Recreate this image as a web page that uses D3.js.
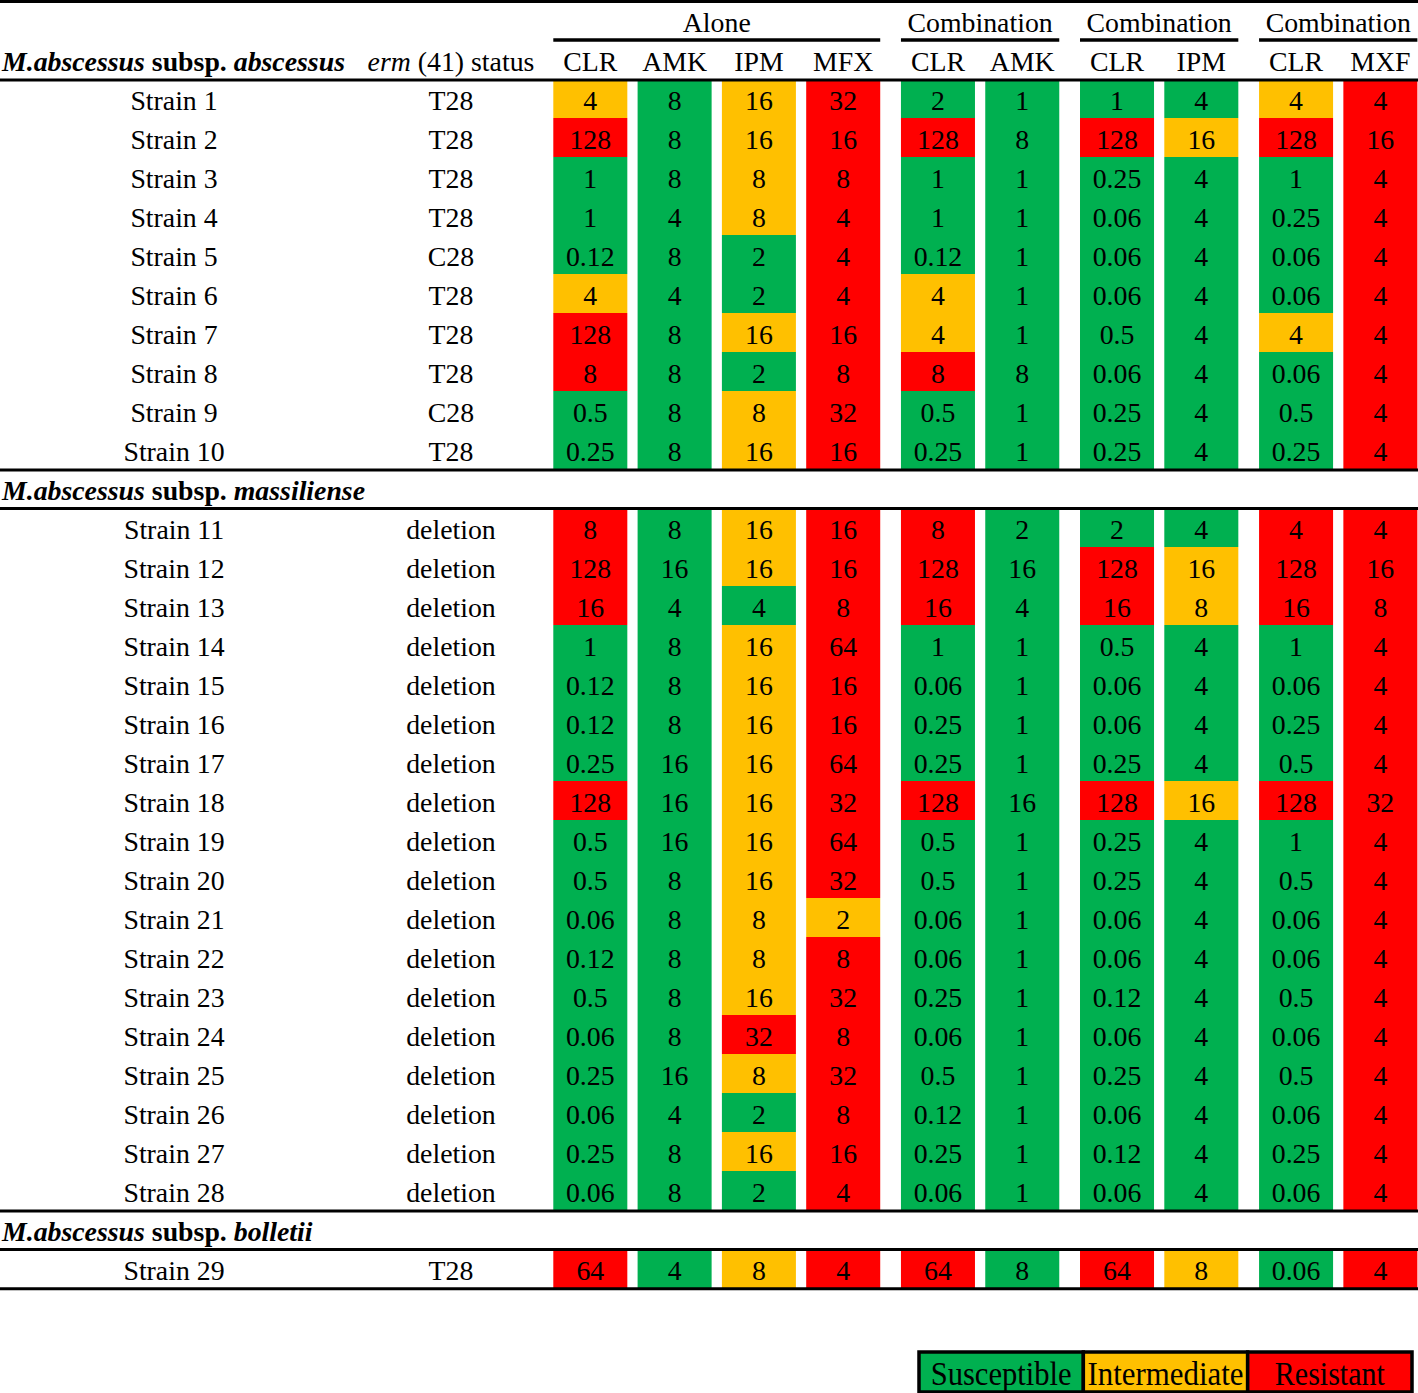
<!DOCTYPE html>
<html>
<head>
<meta charset="utf-8">
<script src="https://cdn.jsdelivr.net/npm/d3@7"></script>
<style>
  html, body { margin: 0; padding: 0; background: #fff; }
</style>
</head>
<body>
<svg id="chart" width="1418" height="1393"></svg>
<script>
// ---------------- DATA ----------------
const drugColumns = ["CLR", "AMK", "IPM", "MFX", "CLR", "AMK", "CLR", "IPM", "CLR", "MXF"];
const columnGroup = [0, 0, 0, 0, 1, 1, 2, 2, 3, 3];
const groupLabels = ["Alone", "Combination", "Combination", "Combination"];

const sectionNames = ["abscessus", "massiliense", "bolletii"];
const strainNames = [
  "Strain 1", "Strain 2", "Strain 3", "Strain 4", "Strain 5", "Strain 6", "Strain 7", "Strain 8", "Strain 9", "Strain 10",
  "Strain 11", "Strain 12", "Strain 13", "Strain 14", "Strain 15", "Strain 16", "Strain 17", "Strain 18", "Strain 19", "Strain 20",
  "Strain 21", "Strain 22", "Strain 23", "Strain 24", "Strain 25", "Strain 26", "Strain 27", "Strain 28",
  "Strain 29"
];
const strainSection = [0,0,0,0,0,0,0,0,0,0, 1,1,1,1,1,1,1,1,1,1,1,1,1,1,1,1,1,1, 2];
const ermStatus = [
  "T28", "T28", "T28", "T28", "C28", "T28", "T28", "T28", "C28", "T28",
  "deletion", "deletion", "deletion", "deletion", "deletion", "deletion", "deletion", "deletion", "deletion", "deletion",
  "deletion", "deletion", "deletion", "deletion", "deletion", "deletion", "deletion", "deletion",
  "T28"
];
const micValues = [
  ["4", "8", "16", "32", "2", "1", "1", "4", "4", "4"],
  ["128", "8", "16", "16", "128", "8", "128", "16", "128", "16"],
  ["1", "8", "8", "8", "1", "1", "0.25", "4", "1", "4"],
  ["1", "4", "8", "4", "1", "1", "0.06", "4", "0.25", "4"],
  ["0.12", "8", "2", "4", "0.12", "1", "0.06", "4", "0.06", "4"],
  ["4", "4", "2", "4", "4", "1", "0.06", "4", "0.06", "4"],
  ["128", "8", "16", "16", "4", "1", "0.5", "4", "4", "4"],
  ["8", "8", "2", "8", "8", "8", "0.06", "4", "0.06", "4"],
  ["0.5", "8", "8", "32", "0.5", "1", "0.25", "4", "0.5", "4"],
  ["0.25", "8", "16", "16", "0.25", "1", "0.25", "4", "0.25", "4"],
  ["8", "8", "16", "16", "8", "2", "2", "4", "4", "4"],
  ["128", "16", "16", "16", "128", "16", "128", "16", "128", "16"],
  ["16", "4", "4", "8", "16", "4", "16", "8", "16", "8"],
  ["1", "8", "16", "64", "1", "1", "0.5", "4", "1", "4"],
  ["0.12", "8", "16", "16", "0.06", "1", "0.06", "4", "0.06", "4"],
  ["0.12", "8", "16", "16", "0.25", "1", "0.06", "4", "0.25", "4"],
  ["0.25", "16", "16", "64", "0.25", "1", "0.25", "4", "0.5", "4"],
  ["128", "16", "16", "32", "128", "16", "128", "16", "128", "32"],
  ["0.5", "16", "16", "64", "0.5", "1", "0.25", "4", "1", "4"],
  ["0.5", "8", "16", "32", "0.5", "1", "0.25", "4", "0.5", "4"],
  ["0.06", "8", "8", "2", "0.06", "1", "0.06", "4", "0.06", "4"],
  ["0.12", "8", "8", "8", "0.06", "1", "0.06", "4", "0.06", "4"],
  ["0.5", "8", "16", "32", "0.25", "1", "0.12", "4", "0.5", "4"],
  ["0.06", "8", "32", "8", "0.06", "1", "0.06", "4", "0.06", "4"],
  ["0.25", "16", "8", "32", "0.5", "1", "0.25", "4", "0.5", "4"],
  ["0.06", "4", "2", "8", "0.12", "1", "0.06", "4", "0.06", "4"],
  ["0.25", "8", "16", "16", "0.25", "1", "0.12", "4", "0.25", "4"],
  ["0.06", "8", "2", "4", "0.06", "1", "0.06", "4", "0.06", "4"],
  ["64", "4", "8", "4", "64", "8", "64", "8", "0.06", "4"]
];
// S = susceptible, I = intermediate, R = resistant
const micCategory = [
  "ISIRSSSSIR", "RSIRRSRIRR", "SSIRSSSSSR", "SSIRSSSSSR", "SSSRSSSSSR",
  "ISSRISSSSR", "RSIRISSSIR", "RSSRRSSSSR", "SSIRSSSSSR", "SSIRSSSSSR",
  "RSIRRSSSRR", "RSIRRSRIRR", "RSSRRSRIRR", "SSIRSSSSSR", "SSIRSSSSSR",
  "SSIRSSSSSR", "SSIRSSSSSR", "RSIRRSRIRR", "SSIRSSSSSR", "SSIRSSSSSR",
  "SSIISSSSSR", "SSIRSSSSSR", "SSIRSSSSSR", "SSRRSSSSSR", "SSIRSSSSSR",
  "SSSRSSSSSR", "SSIRSSSSSR", "SSSRSSSSSR",
  "RSIRRSRISR"
];
const legendCodes = ["S", "I", "R"];
const legendLabels = ["Susceptible", "Intermediate", "Resistant"];

// ---------------- LAYOUT ----------------
const W = 1418, H = 1393;
const FS = 27.8;
const FONT = '"Liberation Serif", "Times New Roman"';
const svg = d3.select("#chart");
const root = svg.append("g");

const color = d3.scaleOrdinal().domain(["S", "I", "R"]).range(["#00B050", "#FFC000", "#FF0000"]);

// Row slots: strains plus section header rows for sections 2 and 3
const slots = [];
strainNames.forEach((s, i) => {
  if (i > 0 && strainSection[i] !== strainSection[i - 1]) slots.push({type: "section", section: strainSection[i], id: "sec" + strainSection[i]});
  slots.push({type: "strain", index: i, id: "row" + i});
});
const rowStep = 39;
const y = d3.scaleBand().domain(slots.map(d => d.id)).range([79, 79 + slots.length * rowStep]).padding(0);
const textDy = 11.5;

// Column units: index + group gap units
const groupGapUnits = 0.124;
const cellUnits = 0.878;
const colUnit = drugColumns.map((d, i) => i + columnGroup[i] * groupGapUnits);
const x = d3.scaleLinear().domain([0, 1]).range([553.3, 553.3 + 84.3]);
const cellX = i => x(colUnit[i]);
const cellW = i => x(colUnit[i] + cellUnits) - x(colUnit[i]);

const strainX = 174, ermX = 451;

function txt(g, xx, yy, size) {
  return g.append("text").attr("x", xx).attr("y", yy)
    .style("font-family", FONT).attr("font-size", size).attr("fill", "#000");
}

// ---------------- CELLS ----------------
const cells = [];
strainNames.forEach((s, r) => {
  drugColumns.forEach((c, j) => {
    cells.push({r, j, v: micValues[r][j], cat: micCategory[r][j]});
  });
});

root.append("g").selectAll("rect").data(cells).join("rect")
  .attr("x", d => cellX(d.j))
  .attr("y", d => y("row" + d.r))
  .attr("width", d => cellW(d.j))
  .attr("height", y.bandwidth())
  .attr("fill", d => color(d.cat));

root.append("g").selectAll("text").data(cells).join("text")
  .attr("x", d => cellX(d.j) + cellW(d.j) / 2)
  .attr("y", d => y("row" + d.r) + y.bandwidth() / 2 + textDy)
  .attr("text-anchor", "middle")
  .style("font-family", FONT)
  .attr("font-size", FS)
  .attr("fill", "#000")
  .text(d => d.v);

// strain names and erm status
const rowLabels = root.append("g");
strainNames.forEach((s, r) => {
  const yy = y("row" + r) + y.bandwidth() / 2 + textDy;
  txt(rowLabels, strainX, yy, FS).attr("text-anchor", "middle").text(s);
  txt(rowLabels, ermX, yy, FS).attr("text-anchor", "middle").text(ermStatus[r]);
});

// section headers
function sectionTitle(g, xx, yy, subsp) {
  const t = txt(g, xx, yy, FS).attr("font-weight", "bold");
  t.append("tspan").attr("font-style", "italic").text("M.abscessus");
  t.append("tspan").text(" subsp. ");
  t.append("tspan").attr("font-style", "italic").text(subsp);
}
slots.filter(d => d.type === "section").forEach(d => {
  sectionTitle(root, 2, y(d.id) + y.bandwidth() / 2 + textDy, sectionNames[d.section]);
});

// ---------------- HEADER ----------------
const header = root.append("g");
sectionTitle(header, 2, 71, sectionNames[0]);
const ermT = txt(header, ermX, 71, FS).attr("text-anchor", "middle");
ermT.append("tspan").attr("font-style", "italic").text("erm");
ermT.append("tspan").text(" (41) status");

drugColumns.forEach((c, j) => {
  txt(header, cellX(j) + cellW(j) / 2, 71, FS).attr("text-anchor", "middle").text(c);
});

groupLabels.forEach((g, gi) => {
  const cols = d3.range(drugColumns.length).filter(j => columnGroup[j] === gi);
  const x0 = cellX(cols[0]);
  const x1 = cellX(cols[cols.length - 1]) + cellW(cols[cols.length - 1]);
  txt(header, (x0 + x1) / 2, 32, FS).attr("text-anchor", "middle").text(g);
  header.append("line").attr("x1", x0).attr("x2", x1).attr("y1", 40).attr("y2", 40)
    .attr("stroke", "#000").attr("stroke-width", 3.5);
});

// ---------------- RULES ----------------
const ruleYs = [1.5, 80];
slots.filter(d => d.type === "section").forEach(d => {
  ruleYs.push(y(d.id) + 1);
  ruleYs.push(y(d.id) + y.bandwidth() + 0.5);
});
ruleYs.push(y.range()[1] + 0.8);
root.append("g").selectAll("line").data(ruleYs).join("line")
  .attr("x1", 0).attr("x2", W).attr("y1", d => d).attr("y2", d => d)
  .attr("stroke", "#000").attr("stroke-width", 3);

// ---------------- LEGEND ----------------
const legend = root.append("g");
const lx = d3.scaleBand().domain(legendCodes).range([919, 1412]).padding(0);
legend.selectAll("rect.cell").data(legendCodes).join("rect").attr("class", "cell")
  .attr("x", d => lx(d)).attr("y", 1352).attr("width", lx.bandwidth()).attr("height", 40)
  .attr("fill", d => color(d)).attr("stroke", "#000").attr("stroke-width", 3.5);
legend.selectAll("text").data(legendCodes).join("text")
  .attr("x", d => lx(d) + lx.bandwidth() / 2)
  .attr("y", 1385)
  .attr("text-anchor", "middle")
  .style("font-family", FONT)
  .attr("font-size", 33)
  .attr("textLength", (d, i) => [141, 156, 110][i])
  .attr("lengthAdjust", "spacingAndGlyphs")
  .text((d, i) => legendLabels[i]);
</script>
</body>
</html>
